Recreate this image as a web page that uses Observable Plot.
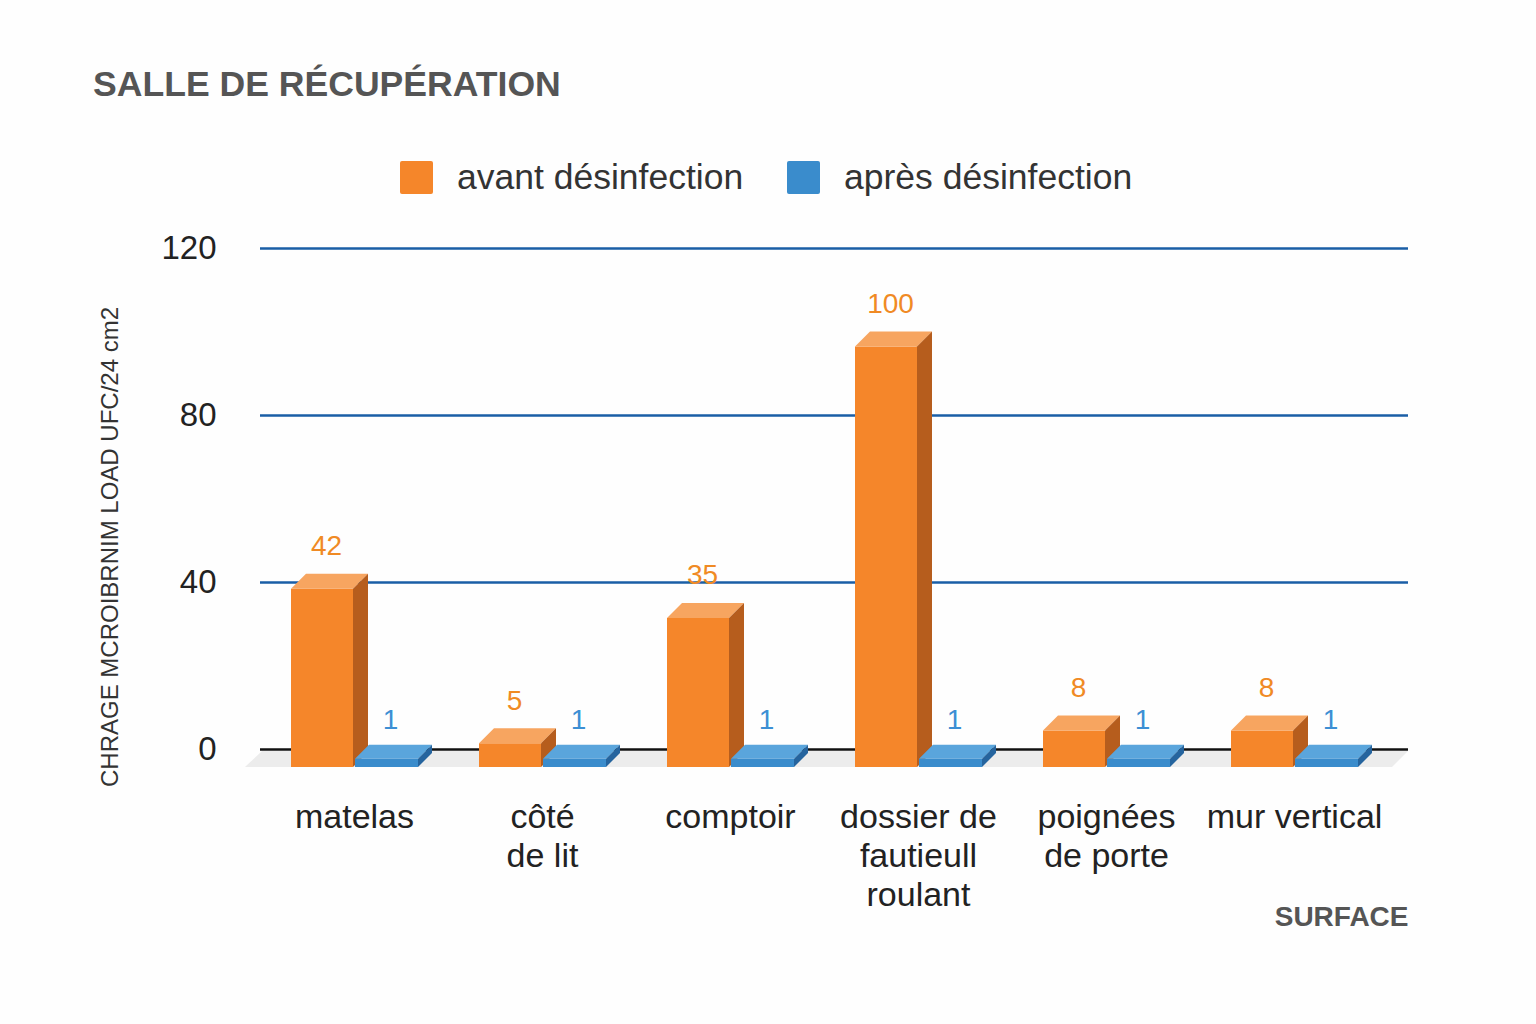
<!DOCTYPE html>
<html>
<head>
<meta charset="utf-8">
<script src="https://cdn.jsdelivr.net/npm/d3@7"></script>
<script src="https://cdn.jsdelivr.net/npm/@observablehq/plot@0.6"></script>
<style>
  html, body { margin: 0; padding: 0; background: #fefefe; }
  #page { position: relative; width: 1536px; height: 1024px; overflow: hidden; font-family: "Liberation Sans", Arial, sans-serif; }
  #title { position: absolute; left: 93px; top: 67px; font-size: 35.6px; font-weight: bold; color: #555; line-height: 1; }
  .leg { position: absolute; top: 160px; display: flex; align-items: center; font-size: 35.5px; color: #333; line-height: 1; }
  .sw { width: 33px; height: 33px; border-radius: 2px; margin-right: 24px; }
  #chart { position: absolute; left: 0; top: 220px; }
</style>
</head>
<body>
<div id="page">
  <div id="title">SALLE DE RÉCUPÉRATION</div>
  <div class="leg" style="left:400px"><div class="sw" style="background:#f5862a"></div><span>avant désinfection</span></div>
  <div class="leg" style="left:787px"><div class="sw" style="background:#3a8ccc"></div><span>après désinfection</span></div>
  <div id="chart"></div>
</div>
<script>
const categories = ["matelas", "côté\nde lit", "comptoir", "dossier de\nfautieull\nroulant", "poignées\nde porte", "mur vertical"];
const avant = [42, 5, 35, 100, 8, 8];
const apres = [1, 1, 1, 1, 1, 1];
const yTicks = [0, 40, 80, 120];
const gridTicks = [40, 80, 120];
const yLabel = "CHRAGE MCROIBRNIM LOAD UFC/24 cm2";
const xLabel = "SURFACE";

const data = categories.map((c, i) => ({cat: c, avant: avant[i], apres: apres[i]}));

const ORANGE = {front: "#f5862a", top: "#f7a560", side: "#b65d1d"};
const BLUE = {front: "#3a8ccc", top: "#5aa5dc", side: "#25649e"};

function poly(g, pts, fill) {
  g.append("path").attr("d", "M" + pts.map(p => p.join(",")).join("L") + "Z").attr("fill", fill);
}

function floorMark(index, scales) {
  const {x, y} = scales;
  const step = x(categories[1]) - x(categories[0]);
  const y0 = y(0);
  const g = d3.create("svg:g");
  const xl = x(categories[0]) - 15;
  const xr = x(categories[categories.length - 1]) + step + 20;
  poly(g, [[xl, y0 + 18], [xl + 17, y0 + 2], [xr, y0 + 2], [xr - 16, y0 + 18]], "#ececec");
  return g.node();
}

function barsMark(index, scales) {
  const {x, y} = scales;
  const step = x(categories[1]) - x(categories[0]);
  const y0 = y(0);
  const g = d3.create("svg:g");
  const drop = 18;
  function bar(x0, x1, v, d, col) {
    const yt = y(v) + d;
    const yb = y0 + drop;
    poly(g, [[x0, yt], [x1, yt], [x1, yb], [x0, yb]], col.front);
    poly(g, [[x0, yt], [x1, yt], [x1 + d, yt - d], [x0 + d, yt - d]], col.top);
    poly(g, [[x1, yt], [x1 + d, yt - d], [x1 + d, yb - d], [x1, yb]], col.side);
  }
  data.forEach(r => {
    const c = x(r.cat) + step / 2;
    bar(c - 63, c - 1, r.avant, 15, ORANGE);
  });
  data.forEach(r => {
    const c = x(r.cat) + step / 2;
    bar(c + 1, c + 64, r.apres, 14, BLUE);
  });
  return g.node();
}

const chart = Plot.plot({
  width: 1536,
  height: 720,
  marginTop: 28,
  marginBottom: 191,
  marginLeft: 260,
  marginRight: 128,
  style: {fontFamily: "'Liberation Sans', Arial, sans-serif", background: "transparent", overflow: "visible"},
  x: {type: "band", domain: categories, range: [260, 1388], padding: 0},
  y: {domain: [0, 120]},
  marks: [
    floorMark,
    Plot.ruleY(gridTicks, {stroke: "#1a5ea6", strokeWidth: 2.5}),
    Plot.ruleY([0], {stroke: "#111", strokeWidth: 2.5}),
    barsMark,
    Plot.text(data, {x: "cat", y: "avant", text: d => String(d.avant), dx: -28, dy: -28, fill: "#f08a24", fontSize: 28}),
    Plot.text(data, {x: "cat", y: "apres", text: d => String(d.apres), dx: 36, dy: -25, fill: "#3c8fd4", fontSize: 28}),
    Plot.axisY(yTicks, {tickSize: 0, tickPadding: 44, fontSize: 33, fill: "#222", label: null}),
    Plot.axisX({tickSize: 0, tickPadding: 51, fontSize: 34, fill: "#222", label: null, lineHeight: 1.15}),
    Plot.text([yLabel], {frameAnchor: "left", textAnchor: "middle", rotate: -90, dx: -150, dy: 48, fontSize: 24, fill: "#333"}),
    Plot.text([xLabel], {frameAnchor: "bottom-right", textAnchor: "end", dy: 176, fontSize: 28, fontWeight: "bold", fill: "#555"})
  ]
});
document.getElementById("chart").appendChild(chart);
</script>
</body>
</html>
